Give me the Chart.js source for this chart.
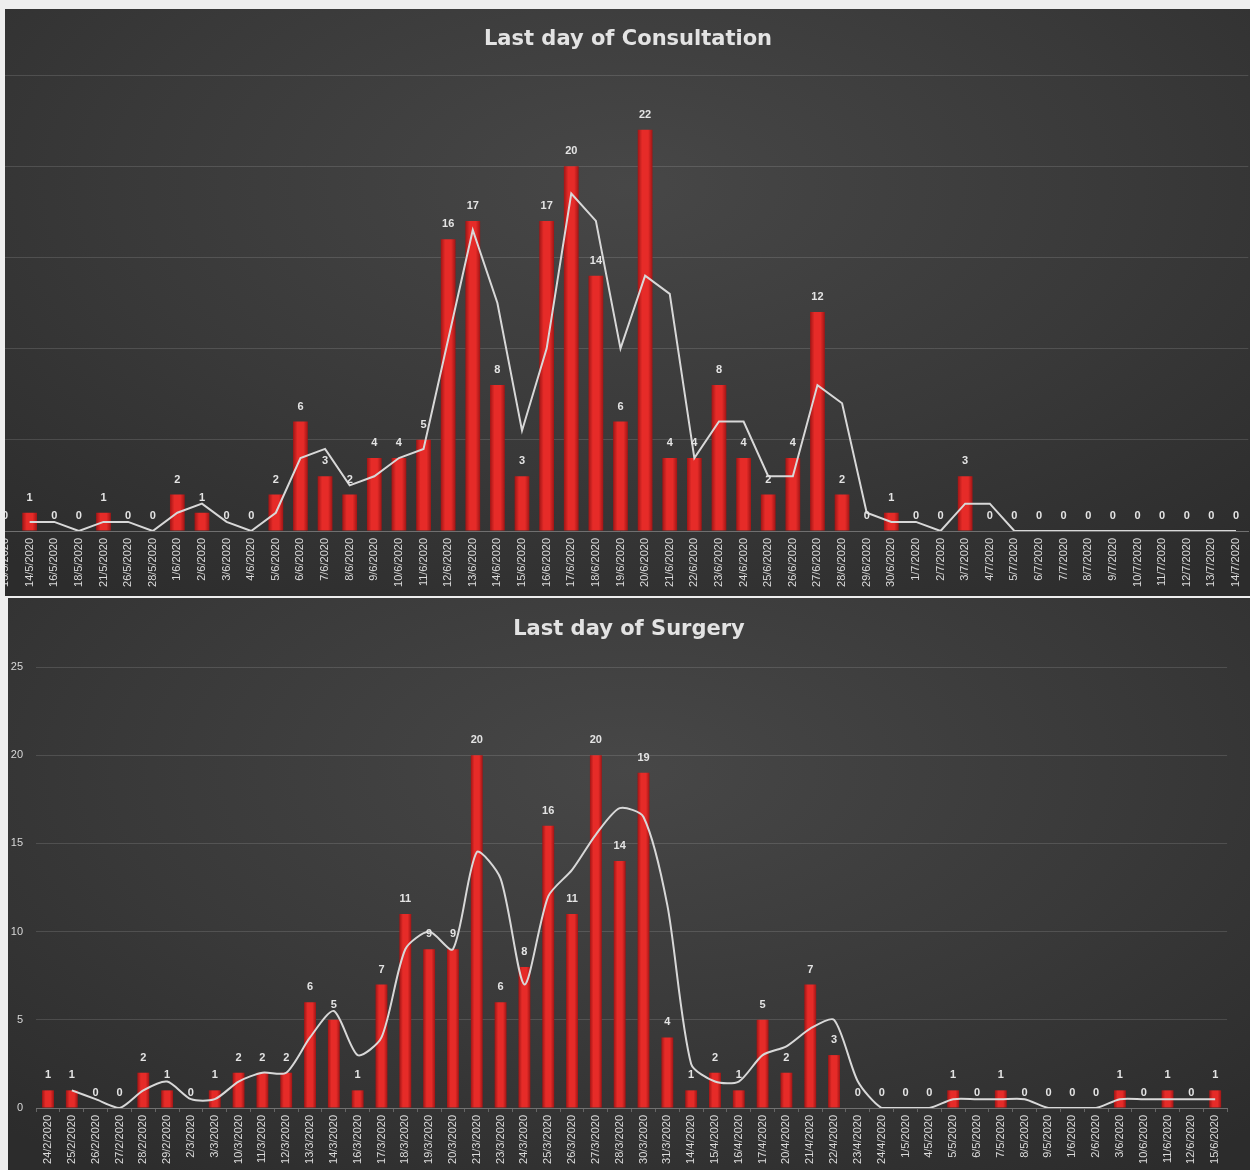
<!DOCTYPE html>
<html>
<head>
<meta charset="utf-8">
<script src="https://cdn.jsdelivr.net/npm/chart.js@4.4.1/dist/chart.umd.min.js"></script>
<style>
  html, body { margin: 0; padding: 0; background: #eeeeee; width: 1250px; height: 1170px; overflow: hidden; }
  .panel { position: absolute; overflow: hidden;
    background: radial-gradient(ellipse 75% 85% at 50% 30%, #474747 0%, #393939 55%, #2c2c2c 100%); }
  #p1 { left: 5px; top: 9px; width: 1245px; height: 587px; }
  #p2 { left: 8px; top: 598px; width: 1242px; height: 572px; }
  #c1 { position: absolute; left: -20px; top: 0; }
  #c2 { position: absolute; left: 0; top: 0; }
</style>
</head>
<body>
<div class="panel" id="p1"><canvas id="c1" width="1286" height="587"></canvas></div>
<div class="panel" id="p2"><canvas id="c2" width="1242" height="572"></canvas></div>
<script>
// ---------- data ----------
const consultLabels = ['13/5/2020','14/5/2020','16/5/2020','18/5/2020','21/5/2020','26/5/2020','28/5/2020',
  '1/6/2020','2/6/2020','3/6/2020','4/6/2020','5/6/2020','6/6/2020','7/6/2020','8/6/2020','9/6/2020',
  '10/6/2020','11/6/2020','12/6/2020','13/6/2020','14/6/2020','15/6/2020','16/6/2020','17/6/2020','18/6/2020',
  '19/6/2020','20/6/2020','21/6/2020','22/6/2020','23/6/2020','24/6/2020','25/6/2020','26/6/2020','27/6/2020',
  '28/6/2020','29/6/2020','30/6/2020','1/7/2020','2/7/2020','3/7/2020','4/7/2020','5/7/2020','6/7/2020',
  '7/7/2020','8/7/2020','9/7/2020','10/7/2020','11/7/2020','12/7/2020','13/7/2020','14/7/2020'];
const consultCounts = [0,1,0,0,1,0,0,2,1,0,0,2,6,3,2,4,4,5,16,17,8,3,17,20,14,6,22,4,4,8,4,2,4,12,2,0,1,0,0,3,0,0,0,0,0,0,0,0,0,0,0];
const consultTrend = [null,0.5,0.5,0,0.5,0.5,0,1,1.5,0.5,0,1,4,4.5,2.5,3,4,4.5,10.5,16.5,12.5,5.5,10,18.5,17,10,14,13,4,6,6,3,3,8,7,1,0.5,0.5,0,1.5,1.5,0,0,0,0,0,0,0,0,0,0];

const surgeryLabels = ['24/2/2020','25/2/2020','26/2/2020','27/2/2020','28/2/2020','29/2/2020','2/3/2020','3/3/2020',
  '10/3/2020','11/3/2020','12/3/2020','13/3/2020','14/3/2020','16/3/2020','17/3/2020','18/3/2020','19/3/2020',
  '20/3/2020','21/3/2020','23/3/2020','24/3/2020','25/3/2020','26/3/2020','27/3/2020','28/3/2020','30/3/2020',
  '31/3/2020','14/4/2020','15/4/2020','16/4/2020','17/4/2020','20/4/2020','21/4/2020','22/4/2020','23/4/2020',
  '24/4/2020','1/5/2020','4/5/2020','5/5/2020','6/5/2020','7/5/2020','8/5/2020','9/5/2020','1/6/2020',
  '2/6/2020','3/6/2020','10/6/2020','11/6/2020','12/6/2020','15/6/2020'];
const surgeryCounts = [1,1,0,0,2,1,0,1,2,2,2,6,5,1,7,11,9,9,20,6,8,16,11,20,14,19,4,1,2,1,5,2,7,3,0,0,0,0,1,0,1,0,0,0,0,1,0,1,0,1];
const surgeryTrend = [null,1,0.5,0,1,1.5,0.5,0.5,1.5,2,2,4,5.5,3,4,9,10,9,14.5,13,7,12,13.5,15.5,17,16.5,11.5,2.5,1.5,1.5,3,3.5,4.5,5,1.5,0,0,0,0.5,0.5,0.5,0.5,0,0,0,0.5,0.5,0.5,0.5,0.5];

const yTicks = [0, 5, 10, 15, 20, 25];

// ---------- helpers ----------
const FONT = '"Liberation Sans", Arial, sans-serif';
const TITLE_FONT = '"DejaVu Sans", "Liberation Sans", sans-serif';

function redBar(c, ratio) {
  const chart = c.chart;
  const xs = chart.scales && chart.scales.x;
  if (!xs || typeof c.dataIndex !== 'number' || !xs.width) return '#d62222';
  const n = chart.data.labels.length;
  const w = xs.width / n * ratio;
  const cx = xs.getPixelForValue(c.dataIndex);
  const g = chart.ctx.createLinearGradient(cx - w / 2, 0, cx + w / 2, 0);
  g.addColorStop(0, '#a01515');
  g.addColorStop(0.3, '#e62b28');
  g.addColorStop(0.7, '#e62b28');
  g.addColorStop(1, '#a01515');
  return g;
}

const valueLabels = {
  id: 'valueLabels',
  afterDatasetsDraw(chart) {
    const ctx = chart.ctx;
    const meta = chart.getDatasetMeta(0);
    const vals = chart.data.datasets[0].data;
    ctx.save();
    ctx.font = 'bold 11px ' + FONT;
    ctx.fillStyle = '#e4e4e4';
    ctx.textAlign = 'center';
    ctx.textBaseline = 'middle';
    meta.data.forEach((bar, i) => {
      ctx.fillText(String(vals[i]), bar.x, bar.y - 15);
    });
    ctx.restore();
  }
};

function build(id, labels, counts, trend, opt) {
  return new Chart(document.getElementById(id), {
    type: 'bar',
    data: {
      labels: labels,
      datasets: [
        { type: 'bar', data: counts, order: 2, categoryPercentage: 1, barPercentage: opt.bar,
          backgroundColor: c => redBar(c, opt.bar), borderWidth: 0 },
        { type: 'line', data: trend, order: 1, borderColor: '#d8d8d8', borderWidth: 2,
          pointRadius: 0, tension: opt.tension, fill: false, spanGaps: false }
      ]
    },
    options: {
      responsive: false, animation: false, devicePixelRatio: 1,
      layout: { padding: 0 },
      plugins: {
        legend: { display: false },
        tooltip: { enabled: false },
        title: { display: true, text: opt.title, color: '#e3e3e3',
          font: { family: TITLE_FONT, size: 21, weight: 'bold', lineHeight: 1.2 },
          padding: { top: opt.titleTop, bottom: opt.titleBottom } }
      },
      scales: {
        x: {
          ticks: { autoSkip: false, minRotation: 90, maxRotation: 90, color: '#dcdcdc',
            font: { family: FONT, size: 11 }, padding: 3 },
          grid: { drawOnChartArea: false, drawTicks: true, tickLength: 4, color: opt.tickColor },
          border: { display: true, color: '#707070', width: 1 },
          afterFit: s => { s.height = opt.xHeight; s.paddingLeft = 0; s.paddingRight = opt.rightPad; }
        },
        y: {
          min: 0, max: 25,
          afterBuildTicks: s => { s.ticks = yTicks.map(v => ({ value: v })); },
          ticks: { display: opt.yLabels, color: '#d8d8d8', font: { family: FONT, size: 11 }, padding: opt.yPad },
          grid: { color: 'rgba(255,255,255,0.13)', drawTicks: false, lineWidth: 1 },
          border: { display: false },
          afterFit: s => { s.width = opt.yWidth; s.paddingTop = 0; s.paddingBottom = 0; }
        }
      }
    },
    plugins: [valueLabels]
  });
}

build('c1', consultLabels, consultCounts, consultTrend, {
  title: 'Last day of Consultation', bar: 0.6, tension: 0,
  titleTop: 18.4, titleBottom: 22.4, xHeight: 65, rightPad: 22.7,
  yWidth: 7.7, yLabels: false, yPad: 0, tickColor: 'rgba(0,0,0,0)'
});

build('c2', surgeryLabels, surgeryCounts, surgeryTrend, {
  title: 'Last day of Surgery', bar: 0.5, tension: 0.25,
  titleTop: 19.4, titleBottom: 24.4, xHeight: 62, rightPad: 22.9,
  yWidth: 28.1, yLabels: true, yPad: 13, tickColor: '#666666'
});
</script>
</body>
</html>
